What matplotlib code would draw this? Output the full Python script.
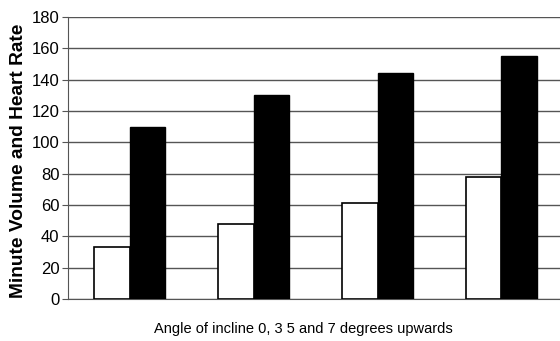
import matplotlib
matplotlib.use("Agg")
import matplotlib.pyplot as plt
import numpy as np

categories = ["0", "3", "5", "7"]
minute_volume = [33, 48, 61, 78]
heart_rate = [110, 130, 144, 155]
yticks = [0, 20, 40, 60, 80, 100, 120, 140, 160, 180]

plt.rcParams['font.family'] = ['Liberation Sans', 'DejaVu Sans']

fig = plt.figure(figsize=(5.6, 3.41), dpi=100)
ax = fig.add_axes([0.121, 0.123, 0.885, 0.827])

x = np.arange(len(categories))
w = 0.288
ax.bar(x - w/2, minute_volume, width=w, color='white', edgecolor='black', linewidth=1.2, zorder=3)
ax.bar(x + w/2, heart_rate, width=w, color='black', edgecolor='black', linewidth=1.0, zorder=3)

ax.set_xlim(-0.5, 3.5)
ax.set_ylim(0, 180)
ax.set_yticks(yticks)
ax.set_xticks([])
ax.yaxis.grid(True, color='#555555', linewidth=1.0, zorder=0)
ax.set_axisbelow(True)
for s in ['top', 'right']:
    ax.spines[s].set_visible(False)
ax.spines['left'].set_color('#555555')
ax.spines['bottom'].set_color('#555555')
ax.tick_params(axis='y', length=4, color='#555555', labelsize=12, pad=2)
ax.set_ylabel("Minute Volume and Heart Rate", fontsize=13.8, fontweight='bold')
ax.yaxis.set_label_coords(-0.082, 0.49)
ax.set_xlabel("Angle of incline 0, 3 5 and 7 degrees upwards", fontsize=10.5)
ax.xaxis.set_label_coords(0.475, -0.08)

fig.savefig("out.png", dpi=100)
